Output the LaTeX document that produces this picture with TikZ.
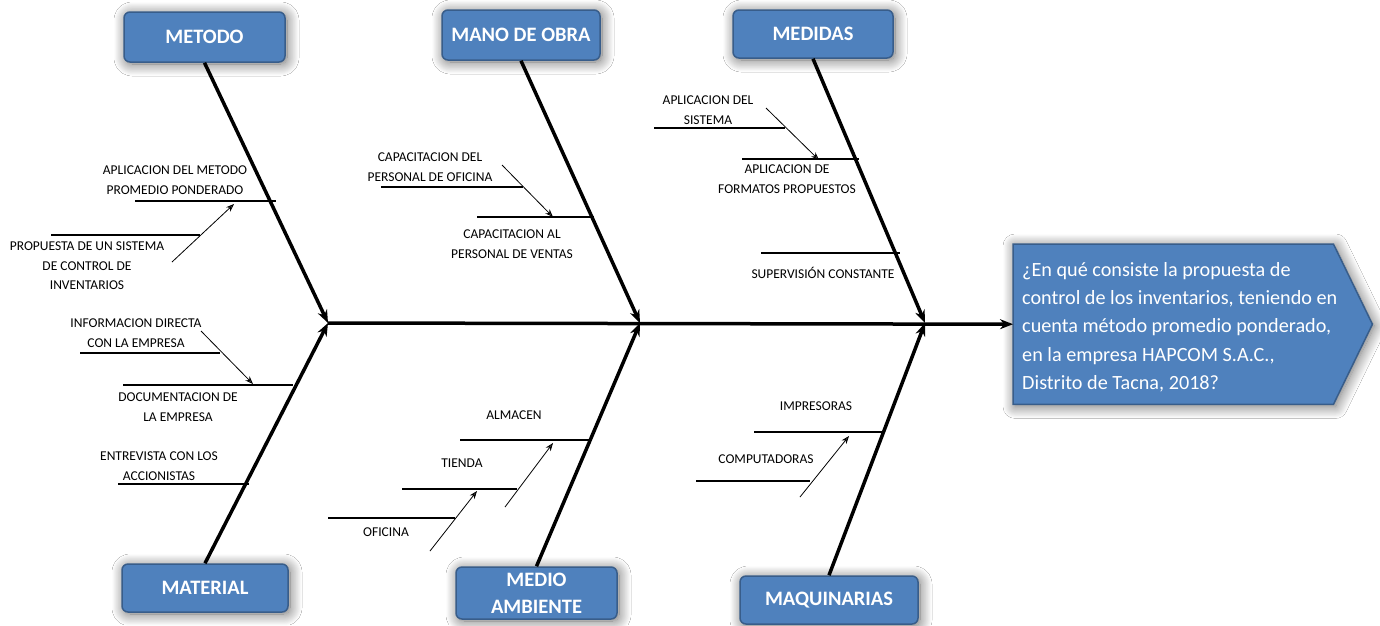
\documentclass[tikz,border=0pt]{standalone}
\usepackage{fontspec}
\setmainfont{Carlito}
\usetikzlibrary{arrows.meta,shadows.blur}
\definecolor{boxblue}{HTML}{4F81BD}
\definecolor{boxedge}{HTML}{385D8A}
\begin{document}
\begin{tikzpicture}[x=1pt,y=-1pt,
  glow/.style={blur shadow={shadow xshift=2pt,shadow yshift=-2pt,shadow blur radius=12pt,shadow blur steps=14,shadow opacity=60}},
  cat/.style={draw=boxedge,line width=1.5pt,fill=boxblue,rounded corners=6pt,text=white,
    font=\bfseries\fontsize{20.5}{27}\selectfont,minimum width=161pt,minimum height=50pt,inner sep=0pt,align=center,glow},
  lbl/.style={font=\fontsize{13.5}{19.5}\selectfont,align=center,inner sep=0pt},
  bone/.style={line width=3.5pt,-{Stealth[length=13pt,width=10pt]}},
  sub/.style={line width=1.2pt},
  subarrow/.style={line width=0.8pt,-{Stealth[length=8pt,width=6pt]}}
]
\useasboundingbox (0,0) rectangle (1380,625);
\fill[white] (0,0) rectangle (1380,625);

% category boxes
\node[cat] (metodo) at (204.5,37) {METODO};
\node[cat,minimum width=158pt] (mano) at (521,35) {MANO DE OBRA};
\node[cat,minimum width=160pt,minimum height=48pt] (medidas) at (813,34) {MEDIDAS};
\node[cat,minimum width=166pt,minimum height=48pt] (material) at (205,588) {MATERIAL};
\node[cat,minimum width=161pt,minimum height=52pt] (medio) at (536.5,593) {MEDIO\\AMBIENTE};
\node[cat,minimum width=178pt,minimum height=48pt] (maq) at (829,600) {MAQUINARIAS};

% question box
\node[minimum width=320pt,minimum height=160pt,inner sep=0pt,anchor=north west] (q) at (1013,244) {};
\draw[draw=boxedge,line width=1.5pt,fill=boxblue,glow]
  (q.north west) -- (q.north east) -- ([xshift=39pt]q.east) -- (q.south east) -- (q.south west) -- cycle;
\node[anchor=north west,text=white,font=\fontsize{20.2}{28.3}\selectfont,align=left,inner sep=0pt] (qt) at (1022,262)
  {¿En qué consiste la propuesta de\\control de los inventarios, teniendo en\\cuenta método promedio ponderado,\\en la empresa HAPCOM S.A.C.,\\Distrito de Tacna, 2018?};

% spine junctions
\coordinate (j1) at (328,323);
\coordinate (j2) at (640,323);
\coordinate (j3) at (925,323);

% main bones
\draw[bone] (j1) -- (q.west);
\draw[bone] (metodo.south) -- (j1);
\draw[bone] (mano.south) -- (j2);
\draw[bone] (medidas.south) -- (j3);
\draw[bone] (material.north) -- (j1);
\draw[bone] (medio.north) -- (j2);
\draw[bone] (maq.north) -- (j3);

% METODO branch
\node[lbl] (m1) at (175,180) {APLICACION DEL METODO\\PROMEDIO PONDERADO};
\coordinate (m1a) at (135,201); \coordinate (m1b) at (276,201);
\draw[sub] (m1a) -- (m1b);
\node[lbl] (m2) at (87,266) {PROPUESTA DE UN SISTEMA\\DE CONTROL DE\\INVENTARIOS};
\coordinate (m2a) at (51,235); \coordinate (m2b) at (200,235);
\draw[sub] (m2a) -- (m2b);
\coordinate (m2s) at (172,262); \coordinate (m2e) at (234,204);
\draw[subarrow] (m2s) -- (m2e);

% MATERIAL branch
\node[lbl] (t1) at (136,333) {INFORMACION DIRECTA\\CON LA EMPRESA};
\coordinate (t1a) at (80,353); \coordinate (t1b) at (220,353);
\draw[sub] (t1a) -- (t1b);
\node[lbl] (t2) at (178,407) {DOCUMENTACION DE\\LA EMPRESA};
\coordinate (t2a) at (123,385); \coordinate (t2b) at (293,385);
\draw[sub] (t2a) -- (t2b);
\coordinate (t1s) at (201,331); \coordinate (t1e) at (253,384);
\draw[subarrow] (t1s) -- (t1e);
\node[lbl] (t3) at (159,466) {ENTREVISTA CON LOS\\ACCIONISTAS};
\coordinate (t3a) at (118,484); \coordinate (t3b) at (249,484);
\draw[sub] (t3a) -- (t3b);

% MANO DE OBRA branch
\node[lbl] (o1) at (430,167) {CAPACITACION DEL\\PERSONAL DE OFICINA};
\coordinate (o1a) at (381,187); \coordinate (o1b) at (523,187);
\draw[sub] (o1a) -- (o1b);
\node[lbl] (o2) at (512,244) {CAPACITACION AL\\PERSONAL DE VENTAS};
\coordinate (o2a) at (477,217); \coordinate (o2b) at (594,217);
\draw[sub] (o2a) -- (o2b);
\coordinate (o1s) at (502,165); \coordinate (o1e) at (553,217);
\draw[subarrow] (o1s) -- (o1e);

% MEDIO AMBIENTE branch
\node[lbl] (a1) at (514,415) {ALMACEN};
\coordinate (a1a) at (460,440); \coordinate (a1b) at (591,440);
\draw[sub] (a1a) -- (a1b);
\node[lbl] (a2) at (462,463) {TIENDA};
\coordinate (a2a) at (402,489); \coordinate (a2b) at (517,489);
\draw[sub] (a2a) -- (a2b);
\node[lbl] (a3) at (386,532) {OFICINA};
\coordinate (a3a) at (328,518); \coordinate (a3b) at (455,518);
\draw[sub] (a3a) -- (a3b);
\coordinate (a2s) at (505,507); \coordinate (a2e) at (553,443);
\draw[subarrow] (a2s) -- (a2e);
\coordinate (a3s) at (430,551); \coordinate (a3e) at (477,491);
\draw[subarrow] (a3s) -- (a3e);

% MEDIDAS branch
\node[lbl] (d1) at (708,110) {APLICACION DEL\\SISTEMA};
\coordinate (d1a) at (654,128); \coordinate (d1b) at (785,128);
\draw[sub] (d1a) -- (d1b);
\node[lbl] (d2) at (787,179) {APLICACION DE\\FORMATOS PROPUESTOS};
\coordinate (d2a) at (742,159); \coordinate (d2b) at (859,159);
\draw[sub] (d2a) -- (d2b);
\coordinate (d1s) at (766,108); \coordinate (d1e) at (819,160);
\draw[subarrow] (d1s) -- (d1e);
\node[lbl] (d3) at (823,273) {SUPERVISIÓN CONSTANTE};
\coordinate (d3a) at (761,253); \coordinate (d3b) at (900,253);
\draw[sub] (d3a) -- (d3b);

% MAQUINARIAS branch
\node[lbl] (q1) at (816,406) {IMPRESORAS};
\coordinate (q1a) at (754,432); \coordinate (q1b) at (884,432);
\draw[sub] (q1a) -- (q1b);
\node[lbl] (q2) at (766,459) {COMPUTADORAS};
\coordinate (q2a) at (696,481); \coordinate (q2b) at (810,481);
\draw[sub] (q2a) -- (q2b);
\coordinate (q2s) at (800,497); \coordinate (q2e) at (849,436);
\draw[subarrow] (q2s) -- (q2e);
\end{tikzpicture}
\end{document}
